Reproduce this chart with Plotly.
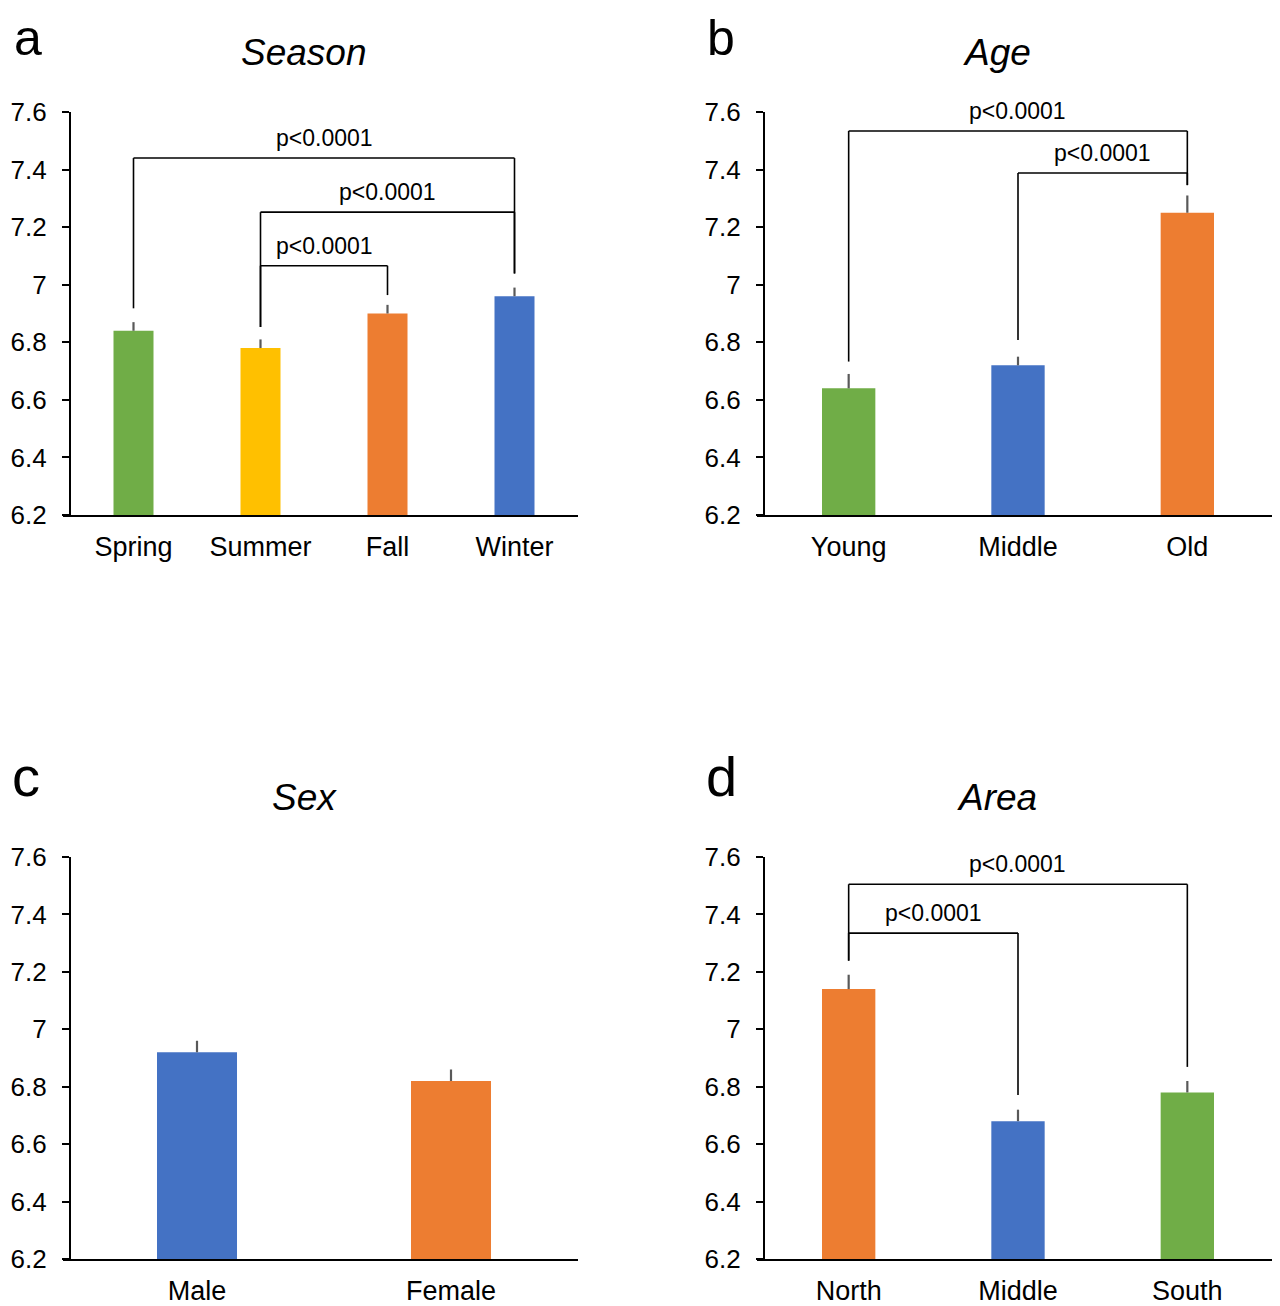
import plotly.graph_objects as go

# ---------------- data ----------------
season_cats = ["Spring", "Summer", "Fall", "Winter"]
season_vals = [6.84, 6.78, 6.90, 6.96]
season_err = [0.03, 0.03, 0.03, 0.03]
season_colors = ["#70AD47", "#FFC000", "#ED7D31", "#4472C4"]
# (left category, right category, bracket height, left leg end, right leg end)
season_brackets = [("Spring", "Winter", 7.44, 6.918, 7.039),
                   ("Summer", "Winter", 7.252, 6.853, 7.039),
                   ("Summer", "Fall", 7.066, 6.853, 6.964)]

age_cats = ["Young", "Middle", "Old"]
age_vals = [6.64, 6.72, 7.25]
age_err = [0.05, 0.03, 0.06]
age_colors = ["#70AD47", "#4472C4", "#ED7D31"]
age_brackets = [("Young", "Old", 7.534, 6.733, 7.346),
                ("Middle", "Old", 7.388, 6.808, 7.346)]

sex_cats = ["Male", "Female"]
sex_vals = [6.92, 6.82]
sex_err = [0.04, 0.04]
sex_colors = ["#4472C4", "#ED7D31"]
sex_brackets = []

area_cats = ["North", "Middle", "South"]
area_vals = [7.14, 6.68, 6.78]
area_err = [0.05, 0.04, 0.04]
area_colors = ["#ED7D31", "#4472C4", "#70AD47"]
area_brackets = [("North", "South", 7.505, 7.239, 6.869),
                 ("North", "Middle", 7.335, 7.239, 6.771)]

p_label = "p<0.0001"
y_ticks = [6.2, 6.4, 6.6, 6.8, 7.0, 7.2, 7.4, 7.6]
y_tick_text = ["6.2", "6.4", "6.6", "6.8", "7", "7.2", "7.4", "7.6"]
y_range = [6.2, 7.6]

# ---------------- layout geometry (page pixels) ----------------
OFF = 8                      # default page margin before the figure
W, H = 1280 - OFF, 1306 - OFF
FONT = "Arial, Liberation Sans, sans-serif"


def fx(px):
    return (px - OFF) / W


def fy(py):
    return 1 - (py - OFF) / H


panels = [
    dict(letter="a", title="Season", cats=season_cats, vals=season_vals, errs=season_err,
         colors=season_colors, brackets=season_brackets,
         left=70, right=578, top=112, bottom=515, title_xy=(304, 52), letter_xy=(28, 38)),
    dict(letter="b", title="Age", cats=age_cats, vals=age_vals, errs=age_err,
         colors=age_colors, brackets=age_brackets,
         left=764, right=1272, top=112, bottom=515, title_xy=(997, 52), letter_xy=(721, 38)),
    dict(letter="c", title="Sex", cats=sex_cats, vals=sex_vals, errs=sex_err,
         colors=sex_colors, brackets=sex_brackets,
         left=70, right=578, top=857, bottom=1259, title_xy=(304, 797), letter_xy=(26, 776)),
    dict(letter="d", title="Area", cats=area_cats, vals=area_vals, errs=area_err,
         colors=area_colors, brackets=area_brackets,
         left=764, right=1272, top=857, bottom=1259, title_xy=(997, 797), letter_xy=(721, 776)),
]
letter_sizes = [50, 50, 56, 56]

fig = go.Figure()
layout = dict(template="none", width=W, height=H,
              margin=dict(l=0, r=0, t=0, b=0, autoexpand=False),
              paper_bgcolor="white", plot_bgcolor="white", showlegend=False,
              hovermode=False, font=dict(family=FONT, color="black"))
shapes = []
annotations = []

for k, p in enumerate(panels, start=1):
    xa = "x" if k == 1 else f"x{k}"
    ya = "y" if k == 1 else f"y{k}"
    n = len(p["cats"])
    step = (p["right"] - p["left"]) / n
    ext = 7  # x axis line extends past the y axis
    fig.add_trace(go.Bar(
        x=p["cats"], y=[v - y_range[0] for v in p["vals"]], base=y_range[0],
        marker=dict(color=p["colors"], line=dict(width=0)),
        width=0.315,
        error_y=dict(type="data", symmetric=False, array=p["errs"],
                     arrayminus=[0] * n, color="#595959", thickness=2.2, width=0),
        xaxis=xa, yaxis=ya, hoverinfo="skip"))
    layout["xaxis" if k == 1 else f"xaxis{k}"] = dict(
        domain=[fx(p["left"] - ext), fx(p["right"])],
        anchor=ya, type="category", categoryorder="array", categoryarray=p["cats"],
        range=[-0.5 - ext / step, n - 0.5], automargin=False,
        showline=True, linecolor="black", linewidth=2.2, ticks="",
        showgrid=False, zeroline=False,
        tickfont=dict(size=27, family=FONT, color="black"), ticklabelstandoff=6)
    layout["yaxis" if k == 1 else f"yaxis{k}"] = dict(
        domain=[fy(p["bottom"]), fy(p["top"])],
        anchor="free", position=fx(p["left"]), range=y_range, automargin=False,
        tickvals=y_ticks, ticktext=y_tick_text,
        showline=True, linecolor="black", linewidth=2.2,
        ticks="outside", ticklen=7, tickwidth=2, tickcolor="black",
        showgrid=False, zeroline=False, ticklabelstandoff=10,
        tickfont=dict(size=26, family=FONT, color="black"))

    idx = {c: i for i, c in enumerate(p["cats"])}
    for (c1, c2, top, e1, e2) in p["brackets"]:
        i1, i2 = idx[c1], idx[c2]
        line = dict(color="black", width=1.6)
        shapes.append(dict(type="line", xref=xa, yref=ya, x0=i1, x1=i1, y0=e1, y1=top, line=line))
        shapes.append(dict(type="line", xref=xa, yref=ya, x0=i1, x1=i2, y0=top, y1=top, line=line))
        shapes.append(dict(type="line", xref=xa, yref=ya, x0=i2, x1=i2, y0=e2, y1=top, line=line))
        annotations.append(dict(text=p_label, xref=xa, yref=ya, x=(i1 + i2) / 2, y=top,
                                xanchor="center", yanchor="bottom", yshift=5, showarrow=False,
                                font=dict(size=23, family=FONT, color="black")))

    annotations.append(dict(text=f"<i>{p['title']}</i>", xref="paper", yref="paper",
                            x=fx(p["title_xy"][0]), y=fy(p["title_xy"][1]),
                            xanchor="center", yanchor="middle", showarrow=False,
                            font=dict(size=37, family=FONT, color="black")))
    annotations.append(dict(text=p["letter"], xref="paper", yref="paper",
                            x=fx(p["letter_xy"][0]), y=fy(p["letter_xy"][1]),
                            xanchor="center", yanchor="middle", showarrow=False,
                            font=dict(size=letter_sizes[k - 1], family=FONT, color="black")))

layout["shapes"] = shapes
layout["annotations"] = annotations
fig.update_layout(**layout)
fig.write_html("out.html")
